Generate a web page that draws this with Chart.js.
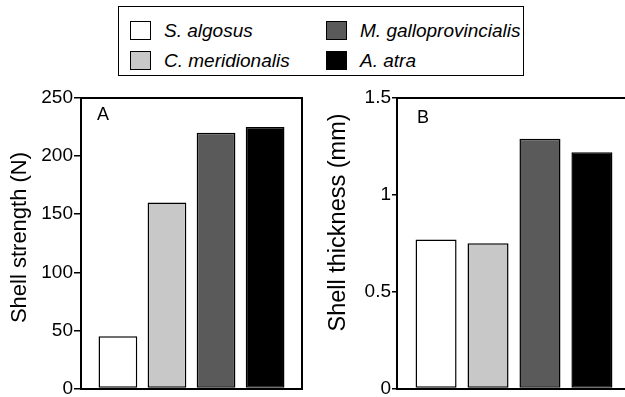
<!DOCTYPE html>
<html>
<head>
<meta charset="utf-8">
<script src="https://cdn.jsdelivr.net/npm/chart.js@4.4.1/dist/chart.umd.min.js"></script>
<style>
  html, body { margin: 0; padding: 0; background: #fff; overflow: hidden; }
  #wrap { position: relative; width: 625px; height: 397px; overflow: hidden; font-family: "Liberation Sans", Arial, sans-serif; }
  #legend { position: absolute; left: 118px; top: 6px; width: 406px; height: 70px; border: 1.5px solid #000;
            display: grid; grid-template-columns: 196px 196px; grid-auto-rows: 30px; padding: 14px 0 0 11px; box-sizing: border-box; }
  .item { display: flex; align-items: center; height: 19px; font-style: italic; font-size: 19px; color: #000; }
  .sw { width: 19px; height: 17px; border: 1.5px solid #000; margin-right: 13px; flex: none; }
  canvas { position: absolute; top: 80px; }
  #chartA { left: 0; }
  #chartB { left: 320px; }
</style>
</head>
<body>
<div id="wrap">
  <div id="legend"></div>
  <canvas id="chartA" width="310" height="330"></canvas>
  <canvas id="chartB" width="320" height="330"></canvas>
</div>
<script>
const species = ['S. algosus', 'C. meridionalis', 'M. galloprovincialis', 'A. atra'];
const fills = ['#ffffff', '#c8c8c8', '#5a5a5a', '#000000'];
const strength = [45, 160, 220, 225];
const thickness = [0.77, 0.75, 1.29, 1.22];
const strengthTicks = [0, 50, 100, 150, 200, 250];
const thicknessTicks = [0, 0.5, 1, 1.5];

// legend order: column 1 = first two species, column 2 = last two
const legendOrder = [0, 2, 1, 3];
const legend = document.getElementById('legend');
legendOrder.forEach(i => {
  const d = document.createElement('div');
  d.className = 'item';
  d.innerHTML = '<span class="sw" style="background:' + fills[i] + '"></span>' + species[i];
  legend.appendChild(d);
});

const font = '"Liberation Sans", Arial, sans-serif';

// draws top/right frame, panel letter and rotated y title
const panelPlugin = {
  id: 'panel',
  afterDraw(chart, args, o) {
    const ctx = chart.ctx, a = chart.chartArea;
    ctx.save();
    ctx.strokeStyle = '#000';
    ctx.lineWidth = 2;
    ctx.beginPath();
    ctx.moveTo(a.left, a.top);
    ctx.lineTo(a.right, a.top);
    ctx.lineTo(a.right, a.bottom);
    ctx.stroke();
    ctx.fillStyle = '#000';
    ctx.font = '18px ' + font;
    ctx.textAlign = 'left';
    ctx.textBaseline = 'alphabetic';
    ctx.fillText(o.letter, a.left + o.letterDx, a.top + o.letterDy);
    ctx.translate(o.titleX, o.titleY);
    ctx.rotate(-Math.PI / 2);
    ctx.font = o.titleSize + 'px ' + font;
    ctx.textAlign = 'center';
    ctx.textBaseline = 'middle';
    ctx.fillText(o.title, 0, 0);
    ctx.restore();
  }
};

function makeChart(id, values, ticks, panel, yWidth, tickLen, padRight) {
  return new Chart(document.getElementById(id), {
    type: 'bar',
    data: {
      labels: [''],
      datasets: species.map((s, i) => ({
        label: s,
        data: [values[i]],
        backgroundColor: fills[i],
        borderColor: '#000',
        borderWidth: 1.5,
        borderSkipped: false,
        categoryPercentage: 0.888,
        barPercentage: 0.79
      }))
    },
    options: {
      responsive: false,
      animation: false,
      layout: { padding: { left: 0, top: 18, right: padRight, bottom: 21.5 } },
      plugins: {
        legend: { display: false },
        tooltip: { enabled: false },
        panel: panel
      },
      scales: {
        x: {
          grid: { display: false },
          border: { display: true, color: '#000', width: 2 },
          ticks: { display: false },
          afterFit: s => { s.height = 0; }
        },
        y: {
          min: 0,
          max: ticks[ticks.length - 1],
          afterBuildTicks: s => { s.ticks = ticks.map(v => ({ value: v })); },
          ticks: {
            callback: v => String(v),
            font: { size: 19, family: font },
            color: '#000',
            padding: 1
          },
          grid: { drawOnChartArea: false, drawTicks: true, tickLength: tickLen, color: '#000', lineWidth: 1.5 },
          border: { display: true, color: '#000', width: 2 },
          afterFit: s => { s.width = yWidth; }
        }
      }
    },
    plugins: [panelPlugin]
  });
}

makeChart('chartA', strength, strengthTicks,
  { letter: 'A', letterDx: 16, letterDy: 22, title: 'Shell strength (N)', titleSize: 22, titleX: 20, titleY: 157.5 },
  81, 7, 8);
makeChart('chartB', thickness, thicknessTicks,
  { letter: 'B', letterDx: 20, letterDy: 25, title: 'Shell thickness (mm)', titleSize: 23.5, titleX: 19, titleY: 142.5 },
  77, 5, 9);
</script>
</body>
</html>
